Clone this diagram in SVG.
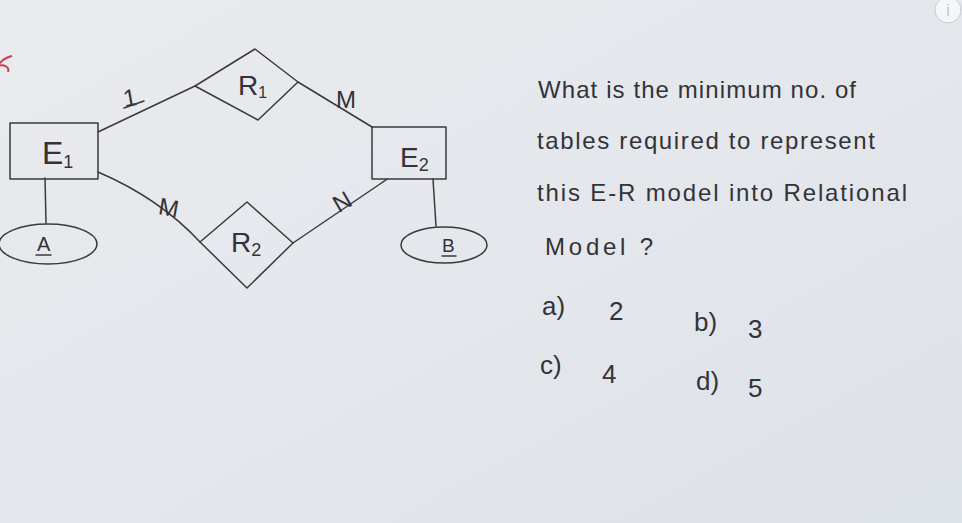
<svg xmlns="http://www.w3.org/2000/svg" width="962" height="523" viewBox="0 0 962 523">
<defs>
<linearGradient id="bg" x1="0" y1="0" x2="1" y2="1">
<stop offset="0" stop-color="#e9ebee"/>
<stop offset="0.6" stop-color="#e3e6eb"/>
<stop offset="1" stop-color="#dde1e8"/>
</linearGradient>
<style>
.s{fill:none;stroke:#3a3a3c;stroke-width:1.5;stroke-linejoin:round;stroke-linecap:round}
.t{font-family:"Liberation Sans","DejaVu Sans",sans-serif;fill:#333338}
.card{font-size:24px}
.q{font-size:24px}
.o{font-size:26px}
</style>
</defs>
<rect width="962" height="523" fill="url(#bg)"/>
<path d="M12,56 C4,58 0,62 -2,66 M-2,66 C4,64 10,67 8,72" fill="none" stroke="#d04050" stroke-width="2"/>
<g id="connectors">
<path class="s" d="M98,132 L195,86"/>
<path class="s" d="M298,82 L372,127"/>
<path class="s" d="M98,172 C140,190 175,215 200,242"/>
<path class="s" d="M293,243 L380,184 Q386,180 387,179"/>
<path class="s" d="M45,178 L46,223"/>
<path class="s" d="M433,179 L436,226"/>
<text class="t card" x="123" y="106" transform="rotate(-10 129 96)">1</text>
<line class="s" x1="124" y1="108" x2="144" y2="101"/>
<text class="t card" x="336" y="108">M</text>
<text class="t card" x="159" y="216" transform="rotate(10 170 206)">M</text>
<text class="t card" x="333" y="210" transform="rotate(-30 342 201)">N</text>
</g>
<g id="E1">
<rect class="s" x="10" y="123" width="88" height="56"/>
<text class="t" x="42" y="164" font-size="32">E<tspan font-size="18" dy="4">1</tspan></text>
</g>
<g id="A">
<ellipse class="s" cx="48" cy="244" rx="49" ry="20"/>
<text class="t" x="37" y="251" font-size="20">A</text>
<line class="s" x1="36" y1="255" x2="51" y2="255" stroke-width="1.2"/>
</g>
<g id="R1">
<path class="s" d="M195,86 L255,49 L298,82 L258,120 Z"/>
<text class="t" x="238" y="95" font-size="28">R<tspan font-size="16" dy="3">1</tspan></text>
</g>
<g id="R2">
<path class="s" d="M200,242 L247,202 L293,243 L247,288 Z"/>
<text class="t" x="231" y="252" font-size="28">R<tspan font-size="18" dy="4">2</tspan></text>
</g>
<g id="E2">
<rect class="s" x="372" y="127" width="74" height="52"/>
<text class="t" x="400" y="167" font-size="28">E<tspan font-size="18" dy="4">2</tspan></text>
</g>
<g id="B">
<ellipse class="s" cx="444" cy="245" rx="43" ry="18"/>
<text class="t" x="442" y="252" font-size="19">B</text>
<line class="s" x1="442" y1="256" x2="456" y2="256" stroke-width="1.2"/>
</g>
<g id="question">
<text class="t q" x="538" y="98" textLength="318" lengthAdjust="spacing">What is the minimum no. of</text>
<text class="t q" x="537" y="149" textLength="338" lengthAdjust="spacing">tables required to represent</text>
<text class="t q" x="537" y="201" textLength="370" lengthAdjust="spacing">this E-R model into Relational</text>
<text class="t q" x="545" y="255" textLength="108" lengthAdjust="spacing">Model  ?</text>
</g>
<g id="options">
<text class="t o" x="542" y="315">a)</text>
<text class="t o" x="609" y="320">2</text>
<text class="t o" x="694" y="331">b)</text>
<text class="t o" x="748" y="338">3</text>
<text class="t o" x="540" y="374">c)</text>
<text class="t o" x="602" y="383">4</text>
<text class="t o" x="696" y="390">d)</text>
<text class="t o" x="748" y="397">5</text>
</g>
<g id="info">
<circle cx="948" cy="10" r="13" fill="#f4f6f8" stroke="#c8ccd2" stroke-width="1"/>
<text x="948" y="16" text-anchor="middle" font-family="Liberation Sans, sans-serif" font-size="16" fill="#c0c4ca">i</text>
</g>
</svg>
